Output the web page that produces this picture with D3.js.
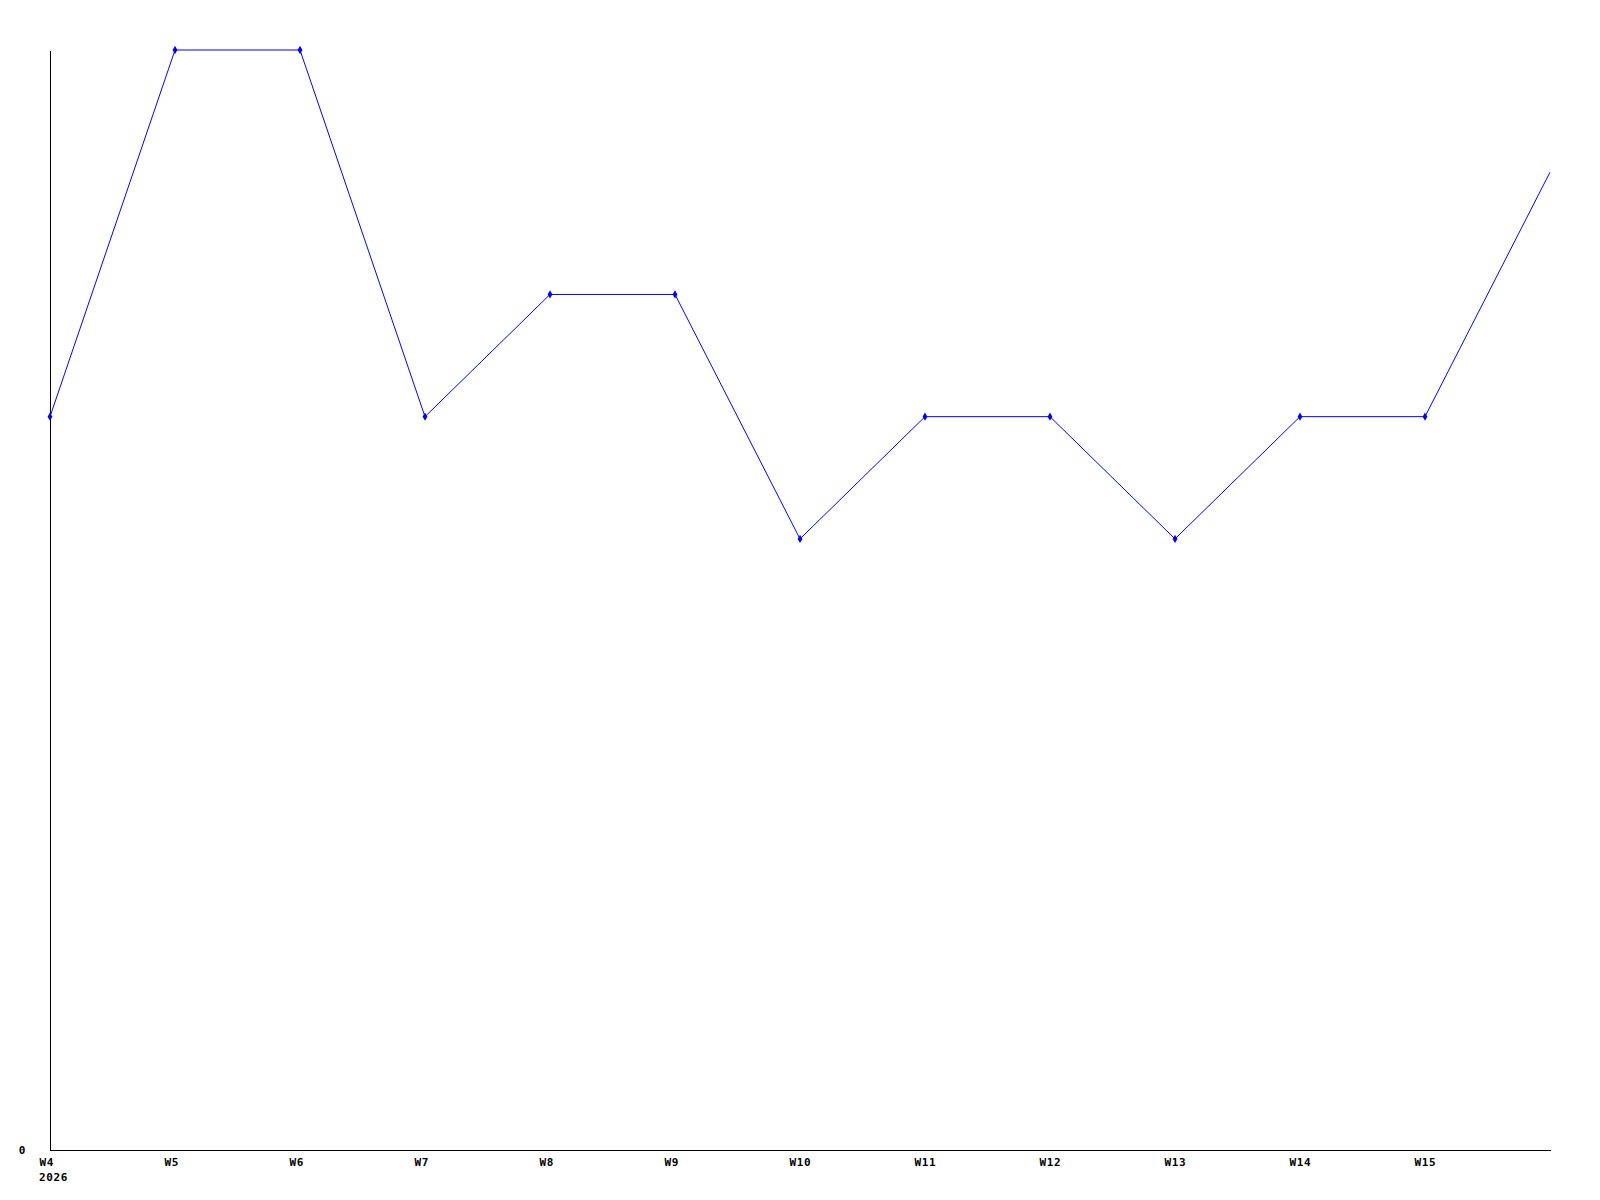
<!DOCTYPE html>
<html>
<head>
<meta charset="utf-8">
<script src="https://cdn.jsdelivr.net/npm/d3@7"></script>
<style>
  body { margin: 0; background: #fff; }
  text { font-family: "DejaVu Sans Mono", monospace; font-weight: bold; font-size: 11px; letter-spacing: 0.6px; fill: #000; }
</style>
</head>
<body>
<script>
// week labels (last point has no label)
const weeks = ["W4", "W5", "W6", "W7", "W8", "W9", "W10", "W11", "W12", "W13", "W14", "W15", ""];
const counts = [6, 9, 9, 6, 7, 7, 5, 6, 6, 5, 6, 6, 8];
const yTicks = [0];
const yearLabel = "2026";

const w = 1600;
const h = 1200;
const padLeft = 50, padRight = 1550, padTop = 50, padBottom = 1150;

const svg = d3.select("body")
              .append("svg")
              .attr("width", w)
              .attr("height", h);

const xScale = d3.scaleLinear()
                 .domain([0, weeks.length - 1])
                 .range([padLeft, padRight]);
const yScale = d3.scaleLinear()
                 .domain([0, d3.max(counts)])
                 .range([padBottom, padTop]);

const xAxis = d3.axisBottom(xScale)
                .tickValues(d3.range(weeks.length).filter(i => weeks[i] !== ""))
                .tickFormat(i => weeks[i])
                .tickSize(0)
                .tickSizeOuter(0);
const gx = svg.append("g")
   .attr("transform", "translate(0," + padBottom + ")")
   .call(xAxis);
gx.attr("font-family", null).attr("font-size", null);
gx.select(".domain").attr("stroke", "#000").attr("shape-rendering", "crispEdges");
gx.selectAll(".tick text")
  .attr("text-anchor", "start")
  .attr("x", -11)
  .attr("y", 16)
  .attr("dy", null);

// year under the first week
svg.append("text")
   .attr("x", xScale(0) - 11)
   .attr("y", padBottom + 31)
   .text(yearLabel);

const yAxis = d3.axisLeft(yScale)
                .tickValues(yTicks)
                .tickSize(0)
                .tickSizeOuter(0);
const gy = svg.append("g")
   .attr("transform", "translate(" + padLeft + ",0)")
   .call(yAxis);
gy.attr("font-family", null).attr("font-size", null);
gy.select(".domain").attr("stroke", "#000").attr("shape-rendering", "crispEdges");
gy.selectAll(".tick text")
  .attr("x", -24)
  .attr("dy", "0.3em");

const line = d3.line()
               .x((d, i) => xScale(i))
               .y(d => yScale(d));

svg.append("path")
   .datum(counts)
   .attr("d", line)
   .attr("fill", "none")
   .attr("stroke", "#0000ff")
   .attr("stroke-width", 1);

svg.selectAll(".pt")
   .data(counts.slice(0, counts.length - 1))
   .enter()
   .append("path")
   .attr("class", "pt")
   .attr("transform", (d, i) => "translate(" + xScale(i) + "," + yScale(d) + ")")
   .attr("d", d3.symbol(d3.symbolDiamond, 20))
   .attr("fill", "#0000ff");
</script>
</body>
</html>
